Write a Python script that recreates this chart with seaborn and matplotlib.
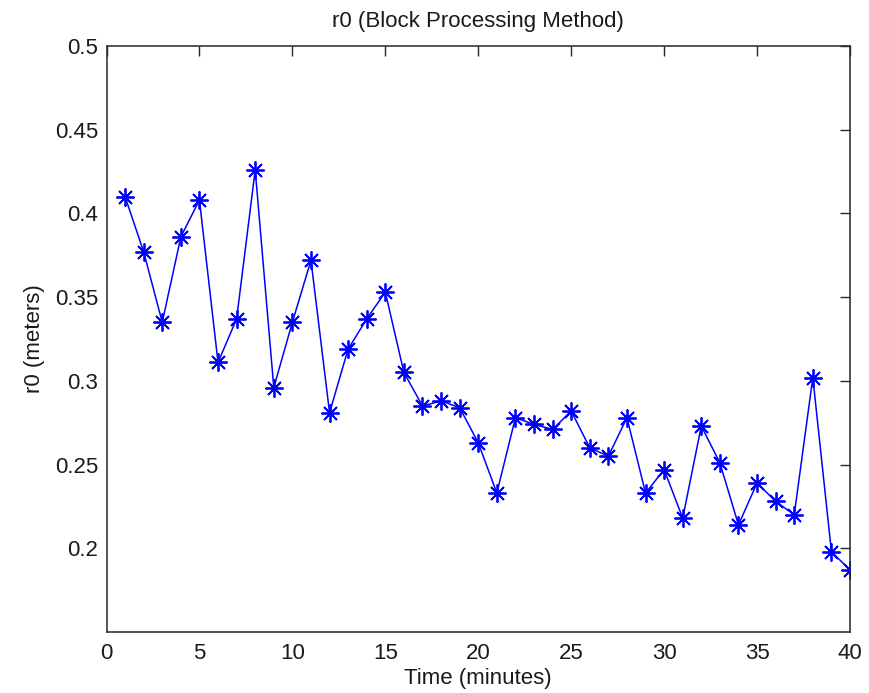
import matplotlib
matplotlib.use("Agg")
import matplotlib.pyplot as plt
import seaborn as sns
import pandas as pd

# r0 estimates, one per minute
minutes = list(range(1, 41))
r0_meters = [
    0.410, 0.377, 0.335, 0.386, 0.408, 0.311, 0.337, 0.426, 0.296, 0.335,
    0.372, 0.281, 0.319, 0.337, 0.353, 0.305, 0.285, 0.288, 0.284, 0.263,
    0.233, 0.278, 0.274, 0.271, 0.282, 0.260, 0.255, 0.278, 0.233, 0.247,
    0.218, 0.273, 0.251, 0.214, 0.239, 0.228, 0.220, 0.302, 0.198, 0.187,
]
x_ticks = [0, 5, 10, 15, 20, 25, 30, 35, 40]
y_ticks = [0.2, 0.25, 0.3, 0.35, 0.4, 0.45, 0.5]

df = pd.DataFrame({"Time (minutes)": minutes, "r0 (meters)": r0_meters})

sns.set_theme(style="white")
plt.rcParams["font.family"] = ["Liberation Sans", "DejaVu Sans"]

fig = plt.figure(figsize=(8.69, 6.93), dpi=100)
ax = fig.add_axes([106.5 / 869, 1 - 632 / 693, (850 - 106.5) / 869, (632 - 46) / 693])

sns.lineplot(data=df, x="Time (minutes)", y="r0 (meters)", ax=ax,
             color="#0000ff", linewidth=1.1, marker=(8, 2, 0), markersize=13,
             markeredgecolor="#0000ff", markeredgewidth=1.3)

ax.set_xlim(0, 40)
ax.set_ylim(0.15, 0.5)
ax.set_xticks(x_ticks)
ax.set_xticklabels([str(t) for t in x_ticks])
ax.set_yticks(y_ticks)
ax.set_yticklabels(["0.2", "0.25", "0.3", "0.35", "0.4", "0.45", "0.5"])

ax.tick_params(axis="both", which="both", direction="in", length=7, width=1,
               top=True, right=True, labelsize=16, color="#262626",
               labelcolor="#1a1a1a")
ax.tick_params(axis="x", pad=8)
ax.tick_params(axis="y", pad=6)
for side in ax.spines.values():
    side.set_visible(True)
    side.set_color("#262626")
    side.set_linewidth(1.1)

ax.set_xlabel("Time (minutes)", fontsize=16, color="#1a1a1a", labelpad=3)
ax.set_ylabel("r0 (meters)", fontsize=16, color="#1a1a1a", labelpad=7)
ax.set_title("r0 (Block Processing Method)", fontsize=16, color="#1a1a1a", pad=14)

fig.savefig("out.png", dpi=100, facecolor="white")
